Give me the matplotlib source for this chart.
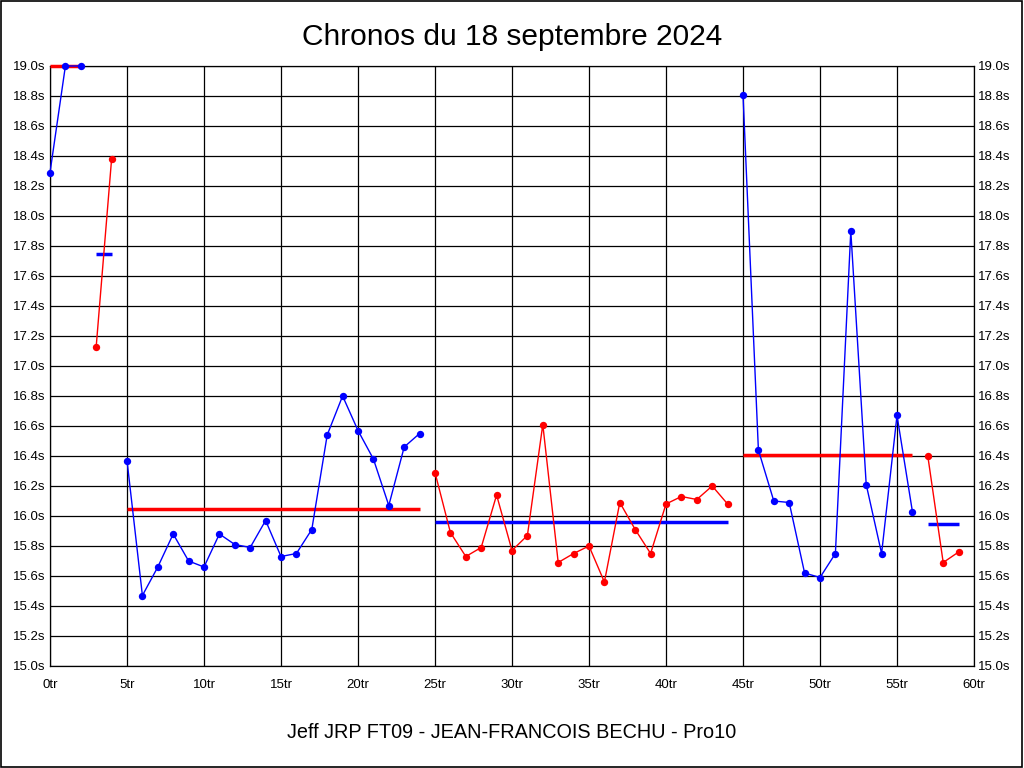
import matplotlib
matplotlib.use("Agg")
import matplotlib.pyplot as plt
from matplotlib.patches import Rectangle
from matplotlib.ticker import FixedLocator

title = "Chronos du 18 septembre 2024"
subtitle = "Jeff JRP FT09 - JEAN-FRANCOIS BECHU - Pro10"

# lap times (s) for laps 0..59
lap_times = [
    18.29, 19.00, 19.00,
    17.13, 18.38,
    16.37, 15.47, 15.66, 15.88, 15.70, 15.66, 15.88, 15.81, 15.79, 15.97,
    15.73, 15.75, 15.91, 16.54, 16.80, 16.57, 16.38, 16.07, 16.46, 16.55,
    16.29, 15.89, 15.73, 15.79, 16.14, 15.77, 15.87, 16.61, 15.69, 15.75,
    15.80, 15.56, 16.09, 15.91, 15.75, 16.08, 16.13, 16.11, 16.20, 16.08,
    18.81, 16.44, 16.10, 16.09, 15.62, 15.59, 15.75, 17.90, 16.21, 15.75,
    16.67, 16.03,
    16.40, 15.69, 15.76,
]
segment_starts = [0, 3, 5, 25, 45, 57]
segment_colors = ["#0000ff", "#ff0000", "#0000ff", "#ff0000", "#0000ff", "#ff0000"]
segment_averages = [19.00, 17.75, 16.045, 15.958, 16.409, 15.946]

x_ticks = list(range(0, 61, 5))
x_labels = [f"{v}tr" for v in x_ticks]
y_ticks = [15.0 + 0.2 * i for i in range(21)]
y_labels = [f"{v:.1f}s" for v in y_ticks]

narrow = ["Liberation Sans Narrow", "Liberation Sans", "DejaVu Sans"]

fig = plt.figure(figsize=(10.24, 7.68), dpi=100)
fig.patch.set_facecolor("white")
fig.patches.append(Rectangle((0.0005, 0.0007), 0.998, 0.998, transform=fig.transFigure,
                             fill=False, edgecolor="black", linewidth=1.2))
ax = fig.add_axes([50 / 1024, 102 / 768, 924 / 1024, 600 / 768])

bounds = segment_starts + [len(lap_times)]
for i in range(len(segment_starts)):
    s, e = bounds[i], bounds[i + 1]
    xs = list(range(s, e))
    ys = lap_times[s:e]
    col = segment_colors[i]
    ax.plot(xs, ys, color=col, linewidth=1.0, marker="o", markersize=5.3,
            markeredgewidth=0, clip_on=False, zorder=4)
    avg_col = segment_colors[(i + 1) % 2]
    ax.plot([s, e - 1], [segment_averages[i]] * 2, color=avg_col, linewidth=2.5,
            solid_capstyle="butt", zorder=3, clip_on=False)

ax.set_xlim(0, 60)
ax.set_ylim(15.0, 19.0)
ax.xaxis.set_major_locator(FixedLocator(x_ticks))
ax.yaxis.set_major_locator(FixedLocator(y_ticks))
ax.set_xticklabels(x_labels, fontfamily=narrow, fontsize=9.5)
ax.set_yticklabels(y_labels, fontfamily=narrow, fontsize=9.5)
ax.tick_params(axis="both", length=0)
ax.tick_params(axis="x", pad=9)
ax.tick_params(axis="y", pad=3, right=True, labelright=True)
ax.grid(True, color="black", linewidth=0.9)
ax.set_axisbelow(True)
for sp in ax.spines.values():
    sp.set_linewidth(0.9)

fig.text(512 / 1024, 1 - 37 / 768, title, ha="center", va="center",
         fontsize=21.5, fontfamily=["Liberation Sans", "DejaVu Sans"])
fig.text(512 / 1024, 1 - 733 / 768, subtitle, ha="center", va="center",
         fontsize=14.3, fontfamily=narrow[1:])

fig.savefig("out.png", dpi=100)
